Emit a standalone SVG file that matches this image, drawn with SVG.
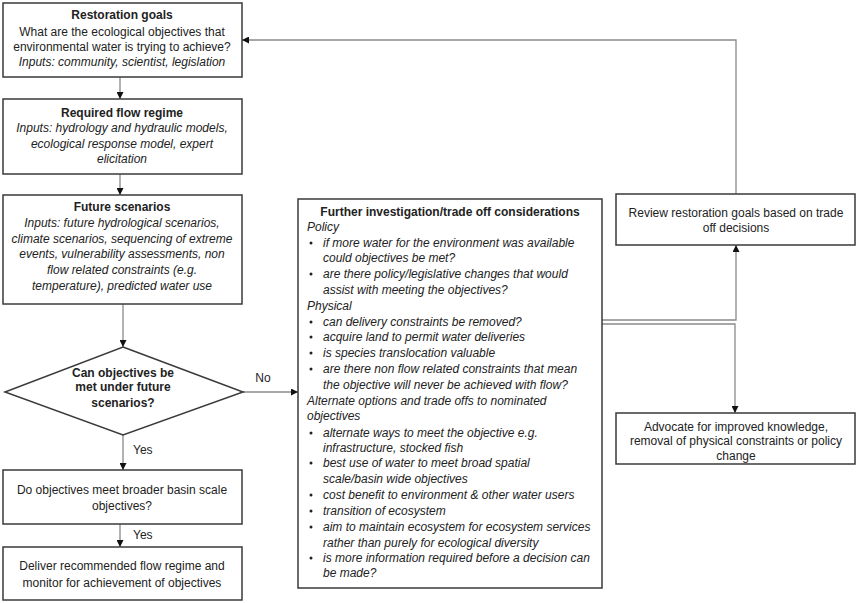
<svg xmlns="http://www.w3.org/2000/svg" width="858" height="603" viewBox="0 0 858 603">
<style>
.box{fill:#fff;stroke:#3a3a3a;stroke-width:1.5}
.con{fill:none;stroke:#8a8a8a;stroke-width:1.3}
text{font-family:"Liberation Sans",Arial,sans-serif;font-size:12px;fill:#222}
.c{text-anchor:middle}
.b{font-weight:bold}
.i{font-style:italic}
</style>
<defs>
<marker id="ah" viewBox="0 0 10 10" refX="10" refY="5" markerWidth="7" markerHeight="7" markerUnits="userSpaceOnUse" orient="auto">
<path d="M0,0 L10,5 L0,10 z" fill="#111"/>
</marker>
</defs>
<rect width="858" height="603" fill="#fff"/>
<g id="connectors">
<path class="con" d="M120,77 V99" marker-end="url(#ah)"/>
<path class="con" d="M120,174 V195" marker-end="url(#ah)"/>
<path class="con" d="M123,304 V347" marker-end="url(#ah)"/>
<path class="con" d="M243,392 H298" marker-end="url(#ah)"/>
<path class="con" d="M123,435 V470" marker-end="url(#ah)"/>
<path class="con" d="M120,524 V547" marker-end="url(#ah)"/>
<path class="con" d="M602,320 H736 V245" marker-end="url(#ah)"/>
<path class="con" d="M602,324 H735 V413" marker-end="url(#ah)"/>
<path class="con" d="M736,194 V40 H242" marker-end="url(#ah)"/>
<text x="263" y="382" class="c">No</text>
<text x="133" y="454">Yes</text>
<text x="133" y="539">Yes</text>
</g>
<g id="restoration-goals">
<rect class="box" x="3" y="3" width="239" height="74"/>
<text x="122" y="19" class="c b">Restoration goals</text>
<text x="122" y="36" class="c">What are the ecological objectives that</text>
<text x="122" y="51" class="c">environmental water is trying to achieve?</text>
<text x="122" y="66" class="c i">Inputs: community, scientist, legislation</text>
</g>
<g id="required-flow-regime">
<rect class="box" x="3" y="99" width="239" height="75"/>
<text x="122" y="117" class="c b">Required flow regime</text>
<text x="122" y="132" class="c i">Inputs: hydrology and hydraulic models,</text>
<text x="122" y="148" class="c i">ecological response model, expert</text>
<text x="122" y="163" class="c i">elicitation</text>
</g>
<g id="future-scenarios">
<rect class="box" x="3" y="195" width="239" height="109"/>
<text x="122" y="211" class="c b">Future scenarios</text>
<text x="122" y="227" class="c i">Inputs: future hydrological scenarios,</text>
<text x="122" y="243" class="c i">climate scenarios, sequencing of extreme</text>
<text x="122" y="258" class="c i">events, vulnerability assessments, non</text>
<text x="122" y="274" class="c i">flow related constraints (e.g.</text>
<text x="122" y="290" class="c i">temperature), predicted water use</text>
</g>
<g id="decision">
<path class="box" d="M123,347 L243,392 L123,435 L5,392 Z"/>
<text x="123" y="377" class="c b">Can objectives be</text>
<text x="123" y="391" class="c b">met under future</text>
<text x="123" y="407" class="c b">scenarios?</text>
</g>
<g id="basin-scale">
<rect class="box" x="3" y="470" width="239" height="54"/>
<text x="122" y="494" class="c">Do objectives meet broader basin scale</text>
<text x="122" y="510" class="c">objectives?</text>
</g>
<g id="deliver">
<rect class="box" x="3" y="547" width="239" height="53"/>
<text x="122" y="570" class="c">Deliver recommended flow regime and</text>
<text x="122" y="587" class="c">monitor for achievement of objectives</text>
</g>
<g id="further-investigation">
<rect class="box" x="298" y="199" width="304" height="389"/>
<text x="450" y="216" class="c b">Further investigation/trade off considerations</text>
<g class="i">
<text x="307" y="231" class="i">Policy</text>
<text x="323" y="247" class="i">if more water for the environment was available</text>
<text x="323" y="262" class="i">could objectives be met?</text>
<text x="323" y="278" class="i">are there policy/legislative changes that would</text>
<text x="323" y="294" class="i">assist with meeting the objectives?</text>
<text x="307" y="310" class="i">Physical</text>
<text x="323" y="326" class="i">can delivery constraints be removed?</text>
<text x="323" y="341" class="i">acquire land to permit water deliveries</text>
<text x="323" y="357" class="i">is species translocation valuable</text>
<text x="323" y="373" class="i">are there non flow related constraints that mean</text>
<text x="323" y="389" class="i">the objective will never be achieved with flow?</text>
<text x="307" y="405" class="i">Alternate options and trade offs to nominated</text>
<text x="307" y="420" class="i">objectives</text>
<text x="323" y="437" class="i">alternate ways to meet the objective e.g.</text>
<text x="323" y="452" class="i">infrastructure, stocked fish</text>
<text x="323" y="467" class="i">best use of water to meet broad spatial</text>
<text x="323" y="483" class="i">scale/basin wide objectives</text>
<text x="323" y="499" class="i">cost benefit to environment &amp; other water users</text>
<text x="323" y="515" class="i">transition of ecosystem</text>
<text x="323" y="531" class="i">aim to maintain ecosystem for ecosystem services</text>
<text x="323" y="547" class="i">rather than purely for ecological diversity</text>
<text x="323" y="562" class="i">is more information required before a decision can</text>
<text x="323" y="577" class="i">be made?</text>
</g>
<g fill="#222">
<circle cx="311" cy="243" r="1.5"/>
<circle cx="311" cy="274" r="1.5"/>
<circle cx="311" cy="322" r="1.5"/>
<circle cx="311" cy="337" r="1.5"/>
<circle cx="311" cy="353" r="1.5"/>
<circle cx="311" cy="369" r="1.5"/>
<circle cx="311" cy="433" r="1.5"/>
<circle cx="311" cy="463" r="1.5"/>
<circle cx="311" cy="495" r="1.5"/>
<circle cx="311" cy="511" r="1.5"/>
<circle cx="311" cy="527" r="1.5"/>
<circle cx="311" cy="558" r="1.5"/>
</g>
</g>
<g id="review">
<rect class="box" x="616" y="194" width="239" height="51"/>
<text x="736" y="217" class="c">Review restoration goals based on trade</text>
<text x="736" y="232" class="c">off decisions</text>
</g>
<g id="advocate">
<rect class="box" x="616" y="413" width="239" height="51"/>
<text x="736" y="431" class="c">Advocate for improved knowledge,</text>
<text x="736" y="445" class="c">removal of physical constraints or policy</text>
<text x="736" y="460" class="c">change</text>
</g>
</svg>
